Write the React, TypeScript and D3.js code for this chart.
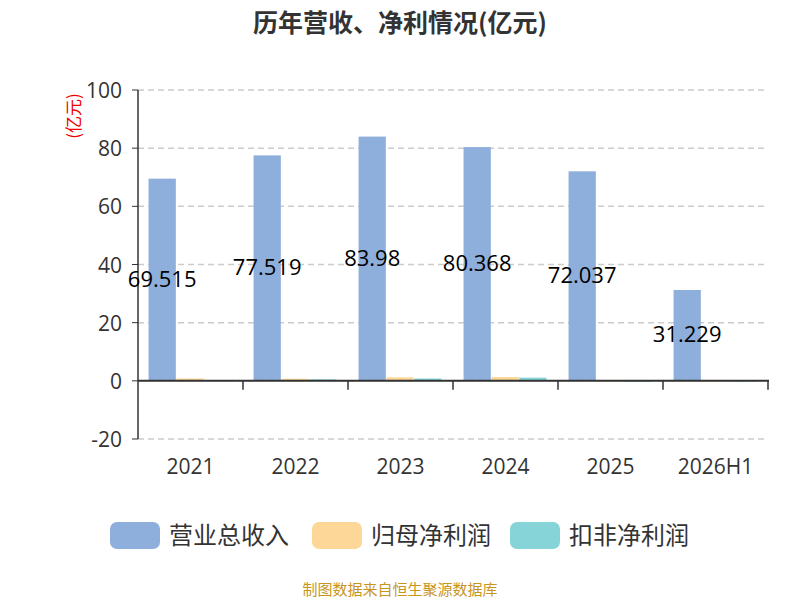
import React, { useEffect, useRef } from 'react';
import * as d3 from 'd3';

const categories = ['2021', '2022', '2023', '2024', '2025', '2026H1'];
const seriesNames = ['营业总收入', '归母净利润', '扣非净利润'];
const revenue = [69.515, 77.519, 83.98, 80.368, 72.037, 31.229];
const netProfit = [0.8, 0.7, 1.2, 1.3, 0.1, 0.05];
const deductedProfit = [0.2, 0.5, 0.8, 1.1, -0.3, 0.1];
const yTicks = [-20, 0, 20, 40, 60, 80, 100];
const colors = ['#8eaedb', '#fdd797', '#86d4d8'];

const App: React.FC = () => {
  const ref = useRef<SVGSVGElement>(null);

  useEffect(() => {
    if (!ref.current) return;
    const svg = d3.select(ref.current);
    svg.selectAll('*').remove();
    const font = '"Noto Sans CJK SC", "Noto Sans", sans-serif';
    const num = '"Open Sans", "Noto Sans", sans-serif';
    const m = { left: 138, right: 768, top: 90, bottom: 439 };

    const x = d3.scaleBand<string>().domain(categories).range([m.left, m.right]);
    const y = d3.scaleLinear().domain([-20, 100]).range([m.bottom, m.top]);
    const inner = d3.scaleBand<number>().domain([0, 1, 2]).range([10, 94]).padding(0.02);
    const series = [revenue, netProfit, deductedProfit];

    svg.append('text').attr('x', 400).attr('y', 32).attr('text-anchor', 'middle')
      .attr('font-family', font).attr('font-size', 25).attr('font-weight', 'bold')
      .attr('fill', '#333').text('历年营收、净利情况(亿元)');

    // grid
    svg.append('g').selectAll('line').data(yTicks).enter().append('line')
      .attr('x1', m.left).attr('x2', m.right)
      .attr('y1', (d) => y(d)).attr('y2', (d) => y(d))
      .attr('stroke', '#ccc').attr('stroke-dasharray', '6,4').attr('stroke-width', 1.5);

    svg.append('g').selectAll('text').data(yTicks).enter().append('text')
      .attr('x', m.left - 16).attr('y', (d) => y(d) + 8).attr('text-anchor', 'end')
      .attr('font-family', num).attr('font-size', 21).attr('fill', '#333').text((d) => d);

    svg.append('line').attr('x1', m.left).attr('x2', m.left)
      .attr('y1', m.top).attr('y2', m.bottom).attr('stroke', '#333').attr('stroke-width', 1.5);
    svg.append('g').selectAll('line').data(yTicks).enter().append('line')
      .attr('x1', m.left - 6).attr('x2', m.left)
      .attr('y1', (d) => y(d)).attr('y2', (d) => y(d)).attr('stroke', '#333');

    svg.append('text').attr('transform', `translate(80,116) rotate(-90)`)
      .attr('text-anchor', 'middle').attr('font-family', font).attr('font-size', 17)
      .attr('fill', '#e00').text('(亿元)');

    series.forEach((vals, si) => {
      svg.append('g').selectAll('rect').data(vals).enter().append('rect')
        .attr('x', (_, i) => x(categories[i])! + inner(si)!)
        .attr('width', inner.bandwidth())
        .attr('y', (d) => y(Math.max(0, d)))
        .attr('height', (d) => Math.max(1, Math.abs(y(d) - y(0))))
        .attr('fill', colors[si]);
    });

    svg.append('g').selectAll('text').data(revenue).enter().append('text')
      .attr('x', (_, i) => x(categories[i])! + inner(0)! + inner.bandwidth() / 2)
      .attr('y', (d) => (y(d) + y(0)) / 2 + 7).attr('text-anchor', 'middle')
      .attr('font-family', num).attr('font-size', 22).attr('fill', '#000').text((d) => d);

    // x axis
    svg.append('line').attr('x1', m.left).attr('x2', m.right + 1)
      .attr('y1', y(0)).attr('y2', y(0)).attr('stroke', '#333').attr('stroke-width', 2);
    const edges = categories.map((c) => x(c)!).concat([m.right]);
    svg.append('g').selectAll('line').data(edges.slice(1)).enter().append('line')
      .attr('x1', (d) => d).attr('x2', (d) => d).attr('y1', y(0)).attr('y2', y(0) + 9)
      .attr('stroke', '#333').attr('stroke-width', 1.5);
    svg.append('g').selectAll('text').data(categories).enter().append('text')
      .attr('x', (d) => x(d)! + x.bandwidth() / 2).attr('y', 474).attr('text-anchor', 'middle')
      .attr('font-family', num).attr('font-size', 21).attr('fill', '#333').text((d) => d);

    // legend
    const lx = [110, 312, 510];
    seriesNames.forEach((n, i) => {
      svg.append('rect').attr('x', lx[i]).attr('y', 522).attr('width', 50).attr('height', 27)
        .attr('rx', 7).attr('fill', colors[i]);
      svg.append('text').attr('x', lx[i] + 59).attr('y', 544).attr('font-family', font)
        .attr('font-size', 24).attr('fill', '#333').text(n);
    });

    svg.append('text').attr('x', 400).attr('y', 595).attr('text-anchor', 'middle')
      .attr('font-family', font).attr('font-size', 15).attr('fill', '#c8961e')
      .text('制图数据来自恒生聚源数据库');
  }, []);

  return <svg ref={ref} width={800} height={600} style={{ position: 'absolute', left: 0, top: 0 }} />;
};

export default App;
